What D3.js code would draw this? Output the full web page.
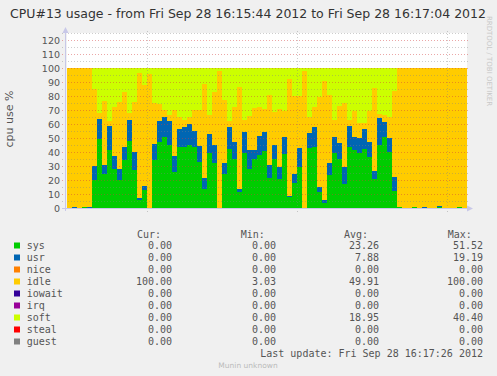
<!DOCTYPE html>
<html lang="en">
<head>
<meta charset="utf-8">
<script src="https://d3js.org/d3.v7.min.js"></script>
<style>
  body { margin: 0; background: #F0F0F0; }
  text { font-family: "DejaVu Sans", sans-serif; }
  .mono { font-family: "DejaVu Sans Mono", monospace; font-size: 10px; fill: #555; }
</style>
</head>
<body>
<div id="plot"></div>
<script>
// one sample per second, 16:15:44 .. 16:17:03
const sys = [
  0, 0, 0, 1, 0, 20, 49.3, 24.3, 41.7, 27.9,
  20, 34.3, 48.1, 27.1, 6, 12.9, 0, 34.3, 47.4, 50.5,
  45, 26, 43.3, 43.3, 45, 43.3, 32.6, 13.3, 39, 31.9,
  0, 24.3, 42.1, 35.2, 11.7, 39, 27.9, 34.8, 37.9, 41,
  21.7, 34.8, 20.7, 38.6, 7.6, 18.1, 29, 0, 42.9, 43.3,
  11.7, 3.8, 23.6, 39, 34.8, 17.1, 43.3, 41.4, 39, 41.9,
  36.7, 20.5, 45, 50.5, 40.2, 12.4, 1, 0, 0, 1,
  0, 0, 0, 0, 0.6, 0, 0, 0, 1, 0];
const usr = [
  0, 1, 0, 0, 1, 10, 14.3, 6.2, 16.9, 9,
  7.9, 9, 14.8, 12.9, 1.1, 2.8, 0, 11.4, 15, 14.3,
  17.1, 11.1, 12.9, 14.8, 15, 11.9, 11.7, 8.4, 13.9, 12.9,
  0, 8.1, 16, 12.2, 1.6, 15.5, 13.5, 6.6, 13.5, 13.5,
  9, 10.2, 8.8, 11.9, 1, 6.2, 13.9, 0, 10.9, 14.8,
  3.1, 1.9, 8.3, 11.5, 11.4, 11.9, 15.3, 9.1, 10.8, 14.3,
  10.7, 6.2, 19, 11.2, 9.6, 9.5, 0, 0, 0, 0,
  0, 1, 0, 0, 1, 0, 0, 0, 0, 0];
const idle = [
  100, 99, 100, 99, 99, 55, 4, 45.9, 3.5, 35.5,
  47.6, 39.6, 4.7, 35.5, 89.1, 71.9, 96, 29.5, 11.6, 5.2,
  4.3, 32.9, 8.6, 4.8, 4.8, 14.8, 25.7, 66.9, 13.5, 38.1,
  97.6, 44.7, 4, 25, 73.4, 8.4, 24.3, 29.8, 20.5, 16,
  50, 23.8, 41, 19, 83.5, 55.9, 37.3, 97.9, 11, 13.8,
  64.7, 84.8, 48.8, 12.4, 26.7, 45.8, 4.3, 19, 10.7, 4.3,
  22.1, 58.8, 3.1, 4.7, 15, 62, 99, 100, 100, 99,
  100, 99, 100, 100, 98.4, 100, 100, 100, 99, 100];
const soft = [
  0, 0, 0, 0, 0, 15, 32.4, 23.6, 37.9, 27.6,
  24.5, 17.1, 32.4, 24.5, 3.8, 12.4, 4, 24.8, 26, 30,
  33.6, 30, 35.2, 37.1, 35.2, 30, 30, 11.4, 33.6, 17.1,
  2.4, 22.9, 37.9, 27.6, 13.3, 37.1, 34.3, 28.8, 28.1, 29.5,
  19.3, 31.2, 29.5, 30.5, 7.9, 19.8, 19.8, 2.1, 35.2, 28.1,
  20.5, 9.5, 19.3, 37.1, 27.1, 25.2, 37.1, 30.5, 39.5, 39.5,
  30.5, 14.5, 32.9, 33.6, 35.2, 16.2, 0, 0, 0, 0,
  0, 0, 0, 0, 0, 0, 0, 0, 0, 0];

const series = ["sys", "usr", "nice", "idle", "iowait", "irq", "soft", "steal", "guest"];
const colors = ["#00CC00", "#0066B3", "#FF8000", "#FFCC00", "#330099", "#990099", "#CCFF00", "#FF0000", "#808080"];
const curVals = ["0.00", "0.00", "0.00", "100.00", "0.00", "0.00", "0.00", "0.00", "0.00"];
const minVals = ["0.00", "0.00", "0.00", "3.03", "0.00", "0.00", "0.00", "0.00", "0.00"];
const avgVals = ["23.26", "7.88", "0.00", "49.91", "0.00", "0.00", "18.95", "0.00", "0.00"];
const maxVals = ["51.52", "19.19", "0.00", "100.00", "0.00", "0.00", "40.40", "0.00", "0.00"];
const yTicks = d3.range(0, 121, 10);

const W = 497, H = 376;
const svg = d3.select("#plot").append("svg")
  .attr("width", W).attr("height", H);
svg.append("rect").attr("width", W).attr("height", H).attr("fill", "#F0F0F0");

const t0 = new Date(2012, 8, 28, 16, 15, 44);
const t1 = new Date(2012, 8, 28, 16, 17, 4);
const x = d3.scaleTime().domain([t0, t1]).range([67, 467]);
const y = d3.scaleLinear().domain([0, 125]).range([208, 33]);

// rows, plus one closing row so the last step reaches the right edge
const rows = sys.map((v, i) => ({
  t: d3.timeSecond.offset(t0, i),
  sys: v, usr: usr[i], nice: 0, idle: idle[i], iowait: 0, irq: 0, soft: soft[i], steal: 0, guest: 0
}));
rows.push(Object.assign({}, rows[rows.length - 1], {t: t1}));

// plot background
svg.append("rect")
  .attr("x", x(t0)).attr("y", y(125))
  .attr("width", x(t1) - x(t0)).attr("height", y(0) - y(125))
  .attr("fill", "#FFFFFF");

const stacked = d3.stack().keys(series)(rows);
const area = d3.area()
  .curve(d3.curveStepAfter)
  .x(d => x(d.data.t))
  .y0(d => y(d[0]))
  .y1(d => y(d[1]));

svg.append("g").selectAll("path")
  .data(stacked)
  .join("path")
    .attr("d", area)
    .attr("fill", (d, i) => colors[i])
    .attr("shape-rendering", "crispEdges");

// grid (drawn over the areas, like rrdtool)
const grid = svg.append("g");
d3.range(0, 126, 5).forEach(v => {
  const major = v % 10 === 0;
  grid.append("line")
    .attr("x1", 62).attr("x2", 470)
    .attr("y1", Math.round(y(v)) + 0.5).attr("y2", Math.round(y(v)) + 0.5)
    .attr("stroke", major ? "rgba(210,60,60,0.45)" : "rgba(130,130,130,0.4)")
    .attr("stroke-dasharray", "1,2");
});
x.ticks(d3.timeSecond.every(30)).forEach(t => {
  grid.append("line")
    .attr("x1", Math.round(x(t)) + 0.5).attr("x2", Math.round(x(t)) + 0.5)
    .attr("y1", 31).attr("y2", 212)
    .attr("stroke", "rgba(130,130,130,0.4)")
    .attr("stroke-dasharray", "1,2");
});

// axes with arrows
const axisCol = "#C8C8E8";
svg.append("line").attr("x1", 65.5).attr("x2", 65.5).attr("y1", 211).attr("y2", 30)
  .attr("stroke", axisCol);
svg.append("path").attr("d", "M62.5,33 L65.5,27 L68.5,33 Z").attr("fill", axisCol);
svg.append("line").attr("x1", 62).attr("x2", 470).attr("y1", 208.5).attr("y2", 208.5)
  .attr("stroke", axisCol);
svg.append("path").attr("d", "M467,205.5 L473,208.5 L467,211.5 Z").attr("fill", axisCol);

// y tick labels
svg.append("g").selectAll("text")
  .data(yTicks)
  .join("text")
    .attr("x", 60).attr("y", d => y(d) + 3.5)
    .attr("text-anchor", "end")
    .attr("font-size", "9.5px")
    .attr("fill", "#555")
    .text(d => d);

svg.append("text")
  .attr("transform", "translate(13,119) rotate(-90)")
  .attr("text-anchor", "middle")
  .attr("font-size", "11px")
  .attr("fill", "#555")
  .text("cpu use %");

// title
svg.append("text")
  .attr("x", 248).attr("y", 18)
  .attr("text-anchor", "middle")
  .attr("font-size", "12.5px")
  .attr("fill", "#333")
  .text("CPU#13 usage - from Fri Sep 28 16:15:44 2012 to Fri Sep 28 16:17:04 2012");

// watermark
svg.append("text")
  .attr("transform", "translate(487,61) rotate(90)")
  .attr("text-anchor", "middle")
  .attr("font-size", "7px")
  .attr("fill", "#C8C8C8")
  .text("RRDTOOL / TOBI OETIKER");

// legend
const legend = svg.append("g");
const cols = [{h: "Cur:", hx: 137, vx: 172, vals: curVals},
              {h: "Min:", hx: 240.7, vx: 276, vals: minVals},
              {h: "Avg:", hx: 344, vx: 379, vals: avgVals},
              {h: "Max:", hx: 447.7, vx: 483, vals: maxVals}];
cols.forEach(c => {
  legend.append("text").attr("class", "mono").attr("x", c.hx).attr("y", 237.5).text(c.h);
});
series.forEach((s, i) => {
  const by = 249 + i * 12;
  legend.append("rect").attr("x", 14).attr("y", by - 6.5).attr("width", 6).attr("height", 6)
    .attr("fill", colors[i]);
  legend.append("text").attr("class", "mono").attr("x", 26.7).attr("y", by).text(s);
  cols.forEach(c => {
    legend.append("text").attr("class", "mono").attr("x", c.vx).attr("y", by)
      .attr("text-anchor", "end").text(c.vals[i]);
  });
});
legend.append("text").attr("class", "mono").attr("x", 483).attr("y", 357)
  .attr("text-anchor", "end").text("Last update: Fri Sep 28 16:17:26 2012");
legend.append("text")
  .attr("x", 248).attr("y", 368)
  .attr("text-anchor", "middle")
  .attr("font-size", "7.5px")
  .attr("fill", "#BBBBBB")
  .text("Munin unknown");
</script>
</body>
</html>
